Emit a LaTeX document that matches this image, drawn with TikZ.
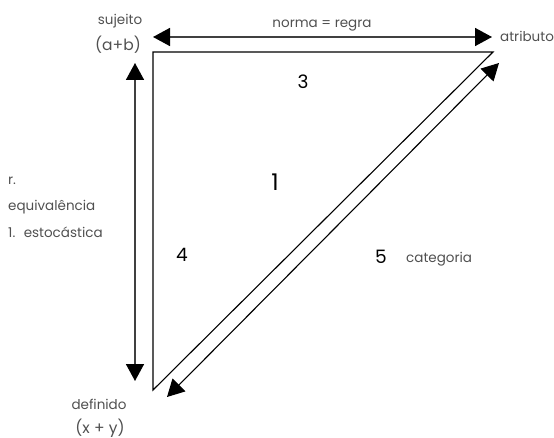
\documentclass[tikz,border=0pt]{standalone}
\usepackage{fontspec}
\setmainfont{Poppins}
\usetikzlibrary{arrows.meta}
\definecolor{txt}{HTML}{505050}
\definecolor{arr}{HTML}{404040}
\tikzset{
  lbl/.style={text=txt,font=\fontsize{13.5}{15}\selectfont,inner sep=0pt},
  big/.style={text=txt,font=\fontsize{15.5}{17}\selectfont,inner sep=0pt},
  num/.style={text=black,font=\fontsize{18.5}{20}\selectfont,inner sep=0pt},
  tri/.style={draw=black,line width=1.1pt},
  dbl/.style={draw=arr,line width=1.6pt,{Triangle[length=17pt,width=18pt,fill=black,color=black]}-{Triangle[length=17pt,width=18pt,fill=black,color=black]}},
  dia/.style={draw=black,line width=1.1pt,{Triangle[length=17pt,width=18pt]}-{Triangle[length=17pt,width=18pt]}}
}
\begin{document}
\begin{tikzpicture}[x=1pt,y=-1pt]
\useasboundingbox (0,0) rectangle (554,438);
% triangle corners
\coordinate (A) at (153,52);
\coordinate (B) at (493,52);
\coordinate (C) at (153,390);
\draw[tri] (B) -- (A) -- (C) -- cycle;
% arrow end points
\coordinate (t1) at (153,37);
\coordinate (t2) at (492,37);
\coordinate (l1) at (135,63);
\coordinate (l2) at (135,381);
\coordinate (d1) at (167,397);
\coordinate (d2) at (499,63);
\draw[dbl] (t1) -- (t2);
\draw[dbl] (l1) -- (l2);
\draw[dia] (d1) -- (d2);
% labels
\node[lbl] (suj) at (120,21) {sujeito};
\node[big] (ab) at (118,45) {(a+b)};
\node[lbl] (norma) at (322,26) {norma = regra};
\node[lbl,anchor=west] (atr) at (500,36) {atributo};
\node[num] (n3) at (303,82) {3};
\node[num,font=\fontsize{23}{25}\selectfont] (n1) at (275,182) {1};
\node[lbl,anchor=west] (r) at (8,181) {r.};
\node[lbl,anchor=west] (eq) at (8,207) {equivalência};
\node[lbl,anchor=west] (est) at (8,232) {1. \ estocástica};
\node[num] (n4) at (182,255) {4};
\node[num] (n5) at (381,257) {5};
\node[lbl,anchor=west] (cat) at (406,259) {categoria};
\node[lbl] (def) at (99,404) {definido};
\node[big] (xy) at (100,428) {(x + y)};
\end{tikzpicture}
\end{document}
